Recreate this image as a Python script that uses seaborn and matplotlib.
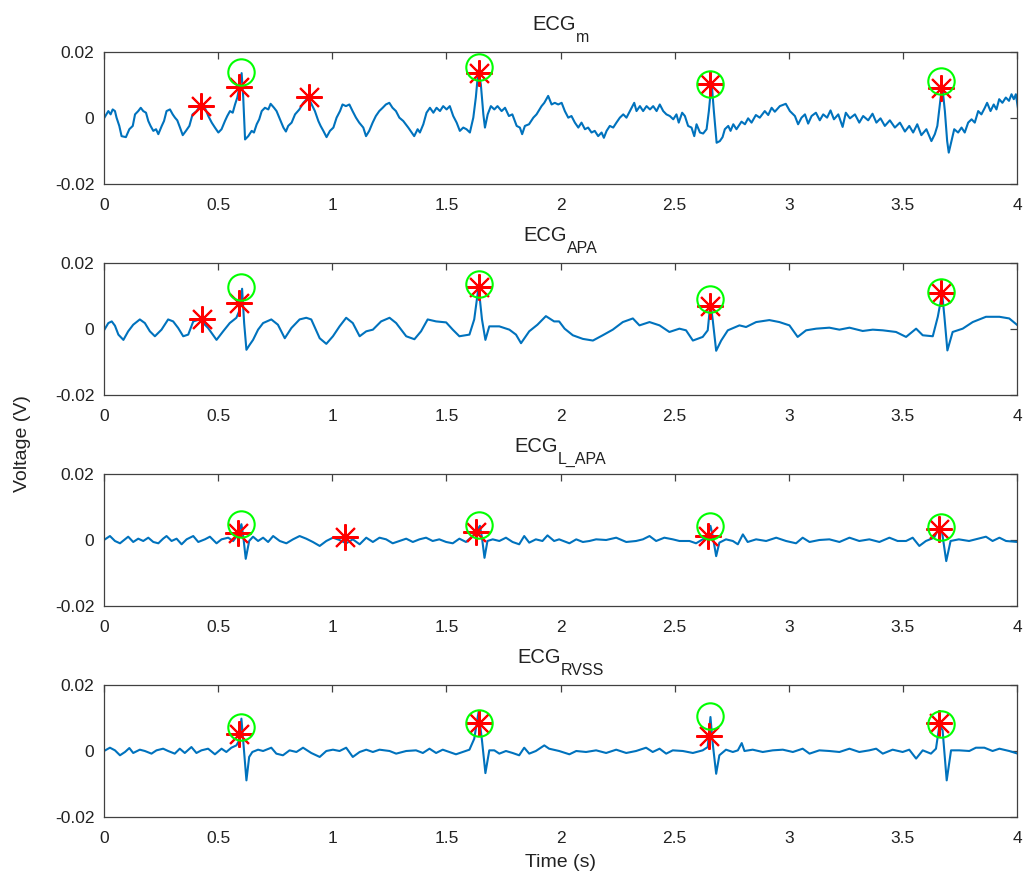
import matplotlib
matplotlib.use('Agg')
import matplotlib.pyplot as plt
import seaborn as sns
import pandas as pd

# signal samples: time in s, voltage in mV
T_M = [0.000, 0.019, 0.029, 0.038, 0.048, 0.055, 0.067, 0.077, 0.096, 0.111,
       0.126, 0.136, 0.150, 0.161, 0.172, 0.184, 0.194, 0.204, 0.216, 0.228,
       0.238, 0.253, 0.263, 0.274, 0.289, 0.301, 0.311, 0.321, 0.333, 0.345,
       0.359, 0.374, 0.388, 0.406, 0.420, 0.442, 0.457, 0.472, 0.486, 0.501,
       0.515, 0.530, 0.540, 0.552, 0.564, 0.574, 0.584, 0.593, 0.603, 0.610,
       0.618, 0.632, 0.647, 0.657, 0.669, 0.680, 0.691, 0.705, 0.720, 0.730,
       0.745, 0.756, 0.771, 0.786, 0.797, 0.807, 0.822, 0.837, 0.856, 0.873,
       0.895, 0.910, 0.924, 0.939, 0.949, 0.961, 0.975, 0.990, 1.005, 1.019,
       1.034, 1.045, 1.060, 1.075, 1.089, 1.104, 1.118, 1.136, 1.148, 1.162,
       1.177, 1.191, 1.206, 1.221, 1.235, 1.250, 1.264, 1.279, 1.294, 1.311,
       1.333, 1.348, 1.359, 1.374, 1.384, 1.399, 1.413, 1.428, 1.443, 1.457,
       1.472, 1.486, 1.501, 1.515, 1.530, 1.545, 1.559, 1.574, 1.588, 1.603,
       1.618, 1.629, 1.640, 1.651, 1.662, 1.669, 1.681, 1.695, 1.710, 1.724,
       1.742, 1.757, 1.774, 1.789, 1.808, 1.822, 1.832, 1.844, 1.862, 1.881,
       1.895, 1.917, 1.929, 1.946, 1.961, 1.975, 1.990, 2.005, 2.019, 2.034,
       2.048, 2.063, 2.078, 2.092, 2.107, 2.121, 2.136, 2.150, 2.165, 2.180,
       2.190, 2.202, 2.216, 2.231, 2.245, 2.260, 2.275, 2.289, 2.304, 2.323,
       2.333, 2.348, 2.362, 2.377, 2.392, 2.406, 2.421, 2.435, 2.450, 2.464,
       2.479, 2.494, 2.508, 2.518, 2.533, 2.545, 2.559, 2.574, 2.586, 2.596,
       2.611, 2.625, 2.640, 2.650, 2.662, 2.672, 2.684, 2.698, 2.710, 2.720,
       2.735, 2.745, 2.757, 2.771, 2.793, 2.808, 2.822, 2.837, 2.856, 2.873,
       2.895, 2.910, 2.925, 2.939, 2.961, 2.987, 3.005, 3.027, 3.041, 3.056,
       3.071, 3.085, 3.100, 3.119, 3.136, 3.151, 3.168, 3.183, 3.198, 3.217,
       3.236, 3.250, 3.268, 3.290, 3.309, 3.326, 3.348, 3.367, 3.384, 3.402,
       3.421, 3.443, 3.465, 3.487, 3.509, 3.528, 3.545, 3.563, 3.581, 3.603,
       3.625, 3.640, 3.651, 3.662, 3.672, 3.684, 3.694, 3.701, 3.713, 3.725,
       3.742, 3.757, 3.771, 3.786, 3.801, 3.815, 3.830, 3.844, 3.859, 3.869,
       3.884, 3.898, 3.910, 3.922, 3.936, 3.951, 3.965, 3.976, 3.986, 3.995,
       4.005]
V_M = [-0.1, 2.1, 1.1, 2.6, 2.1, 0.1, -2.4, -5.5, -5.8, -3.4,
       -2.4, 1.1, 2.1, 3.1, 2.1, 1.6, -0.9, -2.4, -3.9, -3.4,
       -4.9, -2.4, -0.9, 2.1, 2.6, 1.1, 0.1, -0.7, -2.9, -5.2,
       -3.9, -2.4, 1.1, 2.1, 3.6, 3.1, 0.6, -1.4, -2.9, -4.4,
       -3.4, -0.9, 0.6, 2.1, 1.6, 4.1, 6.2, 9.2, 13.6, 6.2,
       -6.5, -5.5, -3.9, -4.4, -1.9, -0.4, 2.1, 3.1, 2.6, 4.3,
       3.1, 2.1, -0.4, -2.9, -4.1, -2.4, -1.4, 1.1, 2.6, 4.6,
       6.2, 4.1, 2.1, -0.9, -2.4, -3.9, -5.8, -3.9, -2.9, 0.1,
       2.1, 4.1, 3.6, 4.1, 2.1, 0.1, -1.4, -2.9, -5.5, -3.9,
       -1.4, 0.6, 2.1, 3.1, 4.1, 4.6, 3.1, 2.1, 0.1, -0.9,
       -2.9, -4.4, -5.5, -3.4, -4.4, -1.9, 1.6, 3.1, 1.6, 3.1,
       2.1, 3.6, 2.6, 3.6, 0.6, -1.4, -3.9, -2.9, -3.4, -4.4,
       0.1, 6.2, 14.5, 10.2, 1.1, -2.9, 1.1, 3.6, 2.6, 3.6,
       2.1, 3.1, 0.6, 1.1, -2.4, -2.9, -4.9, -2.4, -1.9, 0.1,
       1.1, 3.6, 4.6, 6.7, 4.1, 4.6, 4.1, 4.6, 2.1, 0.1,
       0.6, -1.4, -2.9, -1.4, -3.4, -2.9, -4.4, -3.9, -5.5, -4.4,
       -6.0, -3.9, -2.4, -2.9, -1.4, 0.1, 1.1, 0.1, 2.1, 4.6,
       2.1, 3.6, 2.1, 3.6, 2.6, 3.6, 2.1, 4.1, 2.1, 1.1,
       0.6, -0.4, 1.1, -1.4, 1.6, 0.6, -2.4, -2.9, -5.5, -1.9,
       -4.4, -4.7, -3.4, 2.1, 10.8, 2.0, -7.5, -7.0, -5.8, -3.4,
       -2.4, -3.9, -1.9, -3.4, -1.1, -1.9, -0.1, -1.4, 0.9, 0.1,
       2.1, 0.9, 3.1, 1.9, 3.6, 4.3, 2.1, 0.6, -1.9, 0.1,
       1.1, -1.7, 0.6, 1.6, -0.7, 1.1, 0.1, 2.3, -0.4, 1.1,
       -2.7, 1.6, -0.1, 1.1, -1.4, 0.6, -0.7, 1.3, -1.4, -0.1,
       -2.4, -0.7, -2.9, -1.4, -4.1, -2.4, -4.4, -1.9, -5.2, -3.4,
       -7.0, -4.9, -2.4, 4.1, 10.0, 2.1, -7.0, -10.5, -7.0, -3.4,
       -4.4, -2.9, -4.4, -1.4, -0.4, -1.4, 2.1, 1.1, 3.1, 4.6,
       2.1, 4.1, 2.6, 5.7, 4.6, 6.2, 5.2, 7.2, 5.7, 7.2,
       2.6]

T_APA = [0.000, 0.019, 0.034, 0.048, 0.063, 0.085, 0.106, 0.128, 0.157, 0.179,
         0.201, 0.223, 0.252, 0.281, 0.303, 0.325, 0.347, 0.369, 0.391, 0.420,
         0.456, 0.493, 0.522, 0.551, 0.580, 0.592, 0.605, 0.614, 0.624, 0.638,
         0.653, 0.675, 0.697, 0.733, 0.762, 0.792, 0.821, 0.857, 0.886, 0.908,
         0.945, 0.974, 1.003, 1.032, 1.061, 1.090, 1.120, 1.149, 1.178, 1.214,
         1.251, 1.280, 1.324, 1.360, 1.389, 1.418, 1.455, 1.499, 1.528, 1.557,
         1.601, 1.622, 1.641, 1.656, 1.671, 1.688, 1.732, 1.776, 1.805, 1.827,
         1.863, 1.899, 1.936, 1.972, 1.994,
         2.018, 2.054, 2.098, 2.142, 2.185, 2.229, 2.273, 2.317, 2.346, 2.390,
         2.434, 2.477, 2.521, 2.550, 2.580, 2.623, 2.645, 2.657, 2.667, 2.682,
         2.704, 2.733, 2.784, 2.813, 2.857, 2.915, 2.959, 3.003, 3.039, 3.076,
         3.120, 3.178, 3.222, 3.266, 3.324, 3.368, 3.412, 3.470, 3.514, 3.558,
         3.587, 3.631, 3.653, 3.672, 3.682, 3.695, 3.718, 3.762, 3.806, 3.864,
         3.923, 3.966, 4.003]
V_APA = [-0.4, 1.8, 2.3, 1.0, -1.7, -3.3, -0.7, 1.3, 2.9, 1.8,
         -0.7, -2.2, -0.2, 2.9, 2.3, 0.3, -2.2, -1.7, 2.3, 2.9,
         0.3, -3.3, -0.7, 1.8, 3.4, 5.4, 12.2, 1.8, -6.3, -4.8,
         -3.3, -0.2, 1.8, 2.9, 1.3, -2.8, 0.3, 2.9, 3.4, 2.9,
         -2.8, -4.5, -2.2, 0.8, 3.4, 1.8, -2.2, -0.7, -0.2, 2.3,
         3.4, 1.8, -2.2, -3.1, -0.7, 2.9, 2.3, 2.0, -0.2, -2.2,
         -1.7, 2.9, 12.8, 2.9, -3.3, 0.8, 0.8, -0.2, -1.7, -4.3,
         -0.7, 1.3, 3.9, 2.3, 2.3,
         0.1, -1.9, -3.0, -3.5, -1.9, -0.2, 2.1, 3.2, 1.1, 2.1,
         1.1, -0.9, 0.1, -0.4, -3.5, -2.4, -0.4, 8.0, 2.7, -6.6,
         -3.5, -0.4, 1.1, 0.6, 2.1, 2.7, 2.1, 1.1, -2.4, -0.4,
         0.1, 0.4, -0.2, 0.4, -0.6, -0.2, -0.4, -0.9, -2.4, 0.1,
         -1.9, -2.2, 3.7, 10.8, 3.7, -6.5, -0.9, 0.1, 2.1, 3.7,
         3.7, 3.2, 1.1]

T_LAPA = [0.000, 0.026, 0.048, 0.070, 0.092, 0.106, 0.128, 0.150, 0.172, 0.194,
          0.216, 0.238, 0.259, 0.274, 0.296, 0.318, 0.340, 0.362, 0.391, 0.413,
          0.442, 0.464, 0.493, 0.515, 0.544, 0.566, 0.588, 0.602, 0.610, 0.621,
          0.636, 0.653, 0.675, 0.697, 0.719, 0.741, 0.770, 0.799, 0.828, 0.857,
          0.886, 0.915, 0.945, 0.974, 1.003, 1.032, 1.061, 1.090, 1.120, 1.149,
          1.178, 1.207, 1.236, 1.265, 1.294, 1.324, 1.353, 1.382, 1.411, 1.440,
          1.469, 1.499, 1.528, 1.557, 1.586, 1.615, 1.637, 1.647, 1.656, 1.667,
          1.680, 1.703, 1.732, 1.761, 1.790, 1.819, 1.841, 1.863, 1.892, 1.921,
          1.943, 1.972, 1.994,
          2.039, 2.069, 2.098, 2.127, 2.156, 2.200, 2.244, 2.288, 2.331, 2.361,
          2.390, 2.419, 2.455, 2.492, 2.521, 2.565, 2.594, 2.623, 2.645, 2.657,
          2.667, 2.682, 2.696, 2.725, 2.755, 2.777, 2.799, 2.820, 2.857, 2.901,
          2.945, 2.988, 3.032, 3.061, 3.091, 3.134, 3.178, 3.222, 3.266, 3.309,
          3.353, 3.397, 3.441, 3.477, 3.514, 3.543, 3.572, 3.601, 3.637, 3.658,
          3.672, 3.690, 3.709, 3.745, 3.790, 3.819, 3.864, 3.893, 3.923, 3.952,
          4.003]
V_LAPA = [0.0, 1.2, -0.3, -1.0, 0.2, 1.0, -0.6, 0.4, -0.3, 0.7,
          -0.6, -1.0, 0.4, 1.2, -0.3, 0.4, -1.3, 0.2, 1.2, -0.6,
          0.2, 1.0, -1.0, 0.2, 0.7, -0.3, 1.7, 4.8, 1.2, -5.7,
          -0.3, 1.0, -0.3, 0.7, -0.6, 1.2, -0.3, -1.0, 0.2, 1.2,
          0.4, -0.6, -1.8, -0.3, 0.7, 0.0, -1.0, 0.2, -1.3, 0.7,
          -0.6, 0.7, 0.2, -1.0, -0.3, 0.4, -0.6, 0.2, 0.7, -0.3,
          0.2, -0.6, -1.0, 0.4, -0.6, 1.2, 3.2, 4.3, 0.7, -5.4,
          -0.3, 0.2, -0.3, 0.7, -0.6, -1.3, 1.2, -0.8, 0.2, -0.3,
          1.4, -0.3, 0.2,
          -1.0, 0.2, -0.6, -0.3, 0.2, 0.0, 0.7, -0.6, -0.3, 0.2,
          1.2, -0.3, 0.7, 0.2, -0.3, -0.3, -1.0, 0.2, 1.2, 4.3,
          1.2, -4.9, -0.8, 0.2, -0.3, -1.3, 1.7, -0.6, 0.2, -0.3,
          0.7, -0.3, -1.0, 0.7, -0.6, 0.0, 0.2, -0.6, 0.7, -0.3,
          0.2, -0.6, 0.7, -0.3, -0.3, 0.7, -1.8, -0.3, 0.7, 3.7,
          2.2, -6.4, -0.3, 0.2, -0.3, 0.2, 1.0, -0.3, 0.7, -0.3,
          -0.6]

T_RVSS = [0.000, 0.026, 0.048, 0.070, 0.092, 0.111, 0.128, 0.157, 0.179, 0.208,
          0.230, 0.259, 0.281, 0.310, 0.332, 0.354, 0.383, 0.405, 0.427, 0.456,
          0.486, 0.515, 0.536, 0.558, 0.580, 0.592, 0.602, 0.612, 0.624, 0.636,
          0.650, 0.675, 0.697, 0.733, 0.755, 0.784, 0.813, 0.843, 0.872, 0.908,
          0.945, 0.974, 1.003, 1.032, 1.061, 1.090, 1.120, 1.149, 1.178, 1.207,
          1.251, 1.280, 1.324, 1.367, 1.397, 1.426, 1.455, 1.484, 1.513, 1.542,
          1.572, 1.601, 1.622, 1.641, 1.656, 1.671, 1.688, 1.710, 1.732, 1.761,
          1.790, 1.819, 1.841, 1.863, 1.892, 1.929, 1.950, 1.994,
          2.039, 2.069, 2.112, 2.156, 2.200, 2.244, 2.288, 2.331, 2.375, 2.404,
          2.434, 2.463, 2.492, 2.536, 2.580, 2.623, 2.645, 2.657, 2.667, 2.682,
          2.696, 2.725, 2.755, 2.777, 2.794, 2.806, 2.842, 2.886, 2.930, 2.974,
          3.018, 3.061, 3.091, 3.134, 3.178, 3.222, 3.266, 3.309, 3.353, 3.383,
          3.412, 3.455, 3.499, 3.528, 3.558, 3.587, 3.623, 3.645, 3.660, 3.674,
          3.692, 3.711, 3.747, 3.791, 3.820, 3.857, 3.893, 3.923, 3.966, 4.003]
V_RVSS = [0.0, 1.0, 0.2, -1.3, -0.3, 0.9, -0.6, 0.4, 0.0, -0.8,
          0.2, 0.7, 0.0, -0.8, 0.7, -0.6, 1.2, -0.6, 0.2, 0.7,
          -1.0, 0.7, -0.3, 1.0, 1.7, 3.2, 9.8, 1.2, -8.9, -1.8,
          -0.3, 0.4, 0.0, 1.0, -0.8, -1.3, 0.2, -0.3, 1.0, -0.6,
          -1.8, 0.0, 0.4, 0.0, 1.0, -1.8, -0.3, 0.4, -0.3, 0.4,
          0.0, -0.8, 0.0, 0.2, -0.6, 0.7, -0.6, 0.4, -0.3, -1.0,
          -0.3, 0.4, 3.7, 11.8, 3.2, -6.7, 0.2, 0.2, -0.8, 0.0,
          -0.6, -1.3, 1.0, -0.8, 0.0, 1.7, 0.7, 0.0,
          -1.0, 0.0, -0.3, 0.2, -0.6, 0.4, -0.6, 0.0, 1.0, -0.3,
          0.7, -0.8, 0.2, 0.0, -0.6, 0.2, 1.2, 10.3, 2.2, -6.9,
          -1.3, 0.4, -0.3, 0.2, 2.4, 0.0, 0.4, -0.3, 0.2, 0.4,
          -0.3, 0.7, -0.8, 0.2, 0.0, -0.3, 0.7, -0.3, 0.2, 0.7,
          -0.8, 0.4, -0.3, 0.4, -2.3, 0.2, -0.8, 0.7, 7.8, 6.3,
          -8.9, 0.2, 0.2, 0.0, 1.0, 1.0, 0.0, 0.7, 0.0, -0.8]

# detected peaks (red asterisks) and reference R peaks (green circles), mV
STAR_T = [[0.427, 0.592, 0.896, 1.641, 2.657, 3.667],
          [0.431, 0.592, 1.641, 2.657, 3.667],
          [0.587, 1.058, 1.630, 2.645, 3.657],
          [0.592, 1.641, 2.650, 3.660]]
STAR_V = [[3.7, 9.5, 6.3, 13.5, 10.3, 9.1],
          [3.1, 8.0, 12.6, 7.0, 10.8],
          [2.0, 0.9, 2.4, 1.2, 3.2],
          [5.3, 8.6, 4.5, 8.5]]
RING_T = [[0.602, 1.644, 2.657, 3.667],
          [0.602, 1.644, 2.657, 3.667],
          [0.599, 1.644, 2.655, 3.667],
          [0.599, 1.644, 2.657, 3.667]]
RING_V = [[13.8, 15.6, 10.3, 11.3],
          [12.6, 13.6, 9.0, 11.3],
          [4.8, 4.5, 4.3, 4.0],
          [7.3, 8.6, 10.5, 8.3]]

TITLES = [('ECG', 'm'), ('ECG', 'APA'), ('ECG', 'L_APA'), ('ECG', 'RVSS')]
SIGNALS = [(T_M, V_M), (T_APA, V_APA), (T_LAPA, V_LAPA), (T_RVSS, V_RVSS)]
X_TICKS = [0, 0.5, 1, 1.5, 2, 2.5, 3, 3.5, 4]
Y_TICKS = [-0.02, 0, 0.02]

LINE_COLOR = '#0072BD'
AX_COLOR = '#404040'
TXT_COLOR = '#222222'
W, H = 1023, 882

sns.set_style('white')
plt.rcParams['font.family'] = ['Liberation Sans', 'DejaVu Sans']

fig = plt.figure(figsize=(W / 100, H / 100), dpi=100)
tops = [52, 263, 474, 685]
axes = []

for i, (t, v) in enumerate(SIGNALS):
    ax = fig.add_axes([104 / W, 1 - (tops[i] + 132) / H, 913 / W, 132 / H])
    axes.append(ax)
    df = pd.DataFrame({'t': t, 'v': [x / 1000 for x in v]})
    sns.lineplot(data=df, x='t', y='v', ax=ax, color=LINE_COLOR, lw=1.5,
                 sort=False, estimator=None)
    ax.plot(STAR_T[i], [x / 1000 for x in STAR_V[i]], ls='none',
            marker=(8, 2, 0), ms=19, mew=1.5, color='#FF0000')
    ax.plot(RING_T[i], [x / 1000 for x in RING_V[i]], ls='none',
            marker='o', ms=19, mew=1.5, mfc='none', mec='#00FF00')
    ax.set_xlim(0, 4)
    ax.set_ylim(-0.02, 0.02)
    ax.set_xticks(X_TICKS)
    ax.set_xticklabels(['%g' % x for x in X_TICKS])
    ax.set_yticks(Y_TICKS)
    ax.set_yticklabels(['%g' % y for y in Y_TICKS])
    ax.tick_params(direction='in', top=True, right=True, length=5,
                   width=0.9, color=AX_COLOR, labelsize=12.5,
                   labelcolor=TXT_COLOR)
    ax.tick_params(axis='x', pad=10)
    ax.tick_params(axis='y', pad=7)
    for s in ax.spines.values():
        s.set_color(AX_COLOR)
        s.set_linewidth(0.9)
    ax.set_ylabel('')
    if i == 3:
        ax.set_xlabel('Time (s)', fontsize=14, labelpad=6, color=TXT_COLOR)
    else:
        ax.set_xlabel('')

# titles with a deep subscript, centred over each panel
renderer = fig.canvas.get_renderer()
for ax, (main, sub), top in zip(axes, TITLES, tops):
    t1 = fig.text(0, 0, main, fontsize=14.5, color=TXT_COLOR, va='baseline')
    t2 = fig.text(0, 0, sub, fontsize=11.5, color=TXT_COLOR, va='baseline')
    w1 = t1.get_window_extent(renderer).width / W
    w2 = t2.get_window_extent(renderer).width / W
    pos = ax.get_position()
    x0 = (pos.x0 + pos.x1) / 2 - (w1 + w2) / 2
    t1.set_position((x0, 1 - (top - 22) / H))
    t2.set_position((x0 + w1, 1 - (top - 10) / H))

fig.text(0.022, 0.497, 'Voltage (V)', rotation=90, fontsize=14,
         ha='center', va='center', color=TXT_COLOR)

fig.savefig('out.png', dpi=100)
